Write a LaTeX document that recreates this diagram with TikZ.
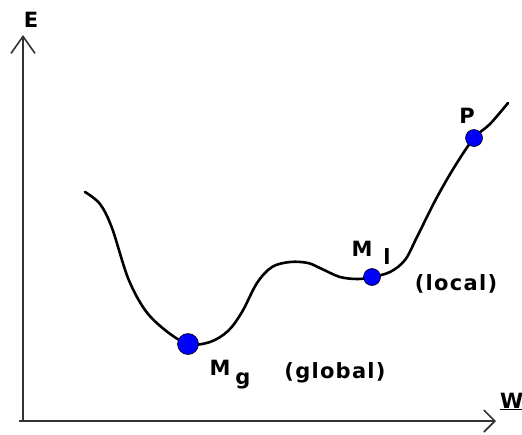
\documentclass[tikz,border=0pt]{standalone}
\usepackage{fontspec}
\usepackage{tikz}
\usetikzlibrary{arrows.meta}
\newfontfamily\lblfont[LetterSpace=6]{DejaVu Sans}
\definecolor{dotblue}{RGB}{0,0,255}

\begin{document}
\begin{tikzpicture}[
  x=1pt,y=-1pt,
  every node/.style={font=\lblfont\bfseries\fontsize{21}{23}\selectfont,inner sep=0pt,anchor=base},
  axis/.style={draw=black!80,line width=1.6pt},
  energy/.style={draw=black,line width=2.6pt,line join=round,line cap=round},
  minimum/.style={circle,fill=dotblue,draw=black,line width=0.6pt,minimum size=17pt},
]
\useasboundingbox (0,0) rectangle (522,434);
\coordinate (origin) at (23,421);
\coordinate (etip) at (23,35);
\coordinate (wtip) at (496,421);
\coordinate (wstart) at (19,421);

% axes
\draw[axis,-{Straight Barb[length=17pt,width=24pt]}] (origin) -- (etip);
\draw[axis,-{Straight Barb[length=11pt,width=22pt]}] (wstart) -- (wtip);

% energy curve
\draw[energy] plot[smooth,tension=0.55] coordinates {
  (85,192) (100,204) (112,228) (128,278) (145,310) (165,330) (188,344)
  (210,342) (228,331) (242,312) (257,283) (272,267) (290,262) (308,263)
  (322,269) (340,277) (358,279) (372,277) (390,272) (405,260) (417,237)
  (436,199) (455,166) (474,138) (490,124) (508,103)};

\node[minimum,minimum size=21pt] (mg) at (188,344) {};
\node[minimum] (ml) at (372,277) {};
\node[minimum] (p) at (474,138) {};

\node (elabel) at (31,27) {E};
\node[anchor=base west] (wlabel) at (500,408) {\underline{W}};
\node (plabel) at (467,123) {P};
\node (mllabel) at (362,256) {M};
\node (mlsub) at (387,264) {l};
\node (locallabel) at (456,290) {(local)};
\node (mglabel) at (220,375) {M};
\node (mgsub) at (243,384) {g};
\node (globallabel) at (335,378) {(global)};
\end{tikzpicture}
\end{document}
